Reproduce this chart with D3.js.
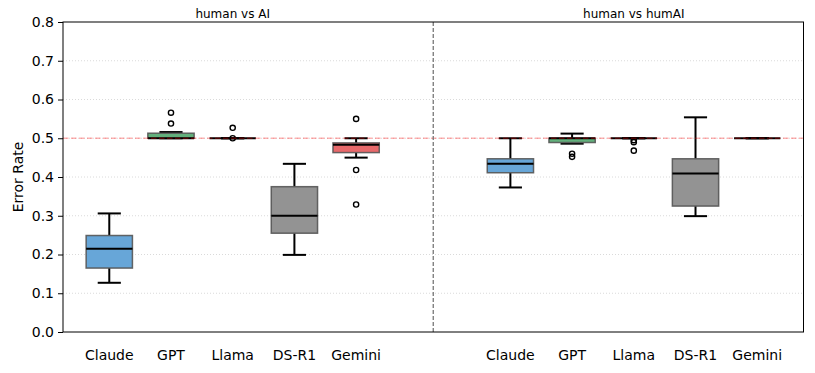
<!DOCTYPE html>
<html>
<head>
<meta charset="utf-8">
<script src="https://cdn.jsdelivr.net/npm/d3@7"></script>
<style>
  body { margin: 0; background: #fff; }
  svg { font-family: "DejaVu Sans", sans-serif; }
</style>
</head>
<body>
<svg width="815" height="373"></svg>
<script>
// models and panel titles
let models = ["Claude", "GPT", "Llama", "DS-R1", "Gemini"];
let groups = ["human vs AI", "human vs humAI"];
let colors = ["#67a6d8", "#62b07c", "#9b84c4", "#939393", "#e8696b"];
let yTicks = [0.0, 0.1, 0.2, 0.3, 0.4, 0.5, 0.6, 0.7, 0.8];

// box stats per group: [whisker low, q1, median, q3, whisker high]
let statsAI = [
    [0.127, 0.165, 0.215, 0.249, 0.306],
    [0.500, 0.500, 0.500, 0.513, 0.516],
    [0.500, 0.500, 0.500, 0.500, 0.500],
    [0.199, 0.255, 0.300, 0.375, 0.434],
    [0.450, 0.463, 0.483, 0.488, 0.500]
];
let outliersAI = [
    [],
    [0.538, 0.566],
    [0.500, 0.527],
    [],
    [0.329, 0.418, 0.550]
];
let statsHumAI = [
    [0.373, 0.411, 0.434, 0.447, 0.500],
    [0.486, 0.489, 0.500, 0.500, 0.512],
    [0.500, 0.500, 0.500, 0.500, 0.500],
    [0.299, 0.325, 0.409, 0.447, 0.554],
    [0.500, 0.500, 0.500, 0.500, 0.500]
];
let outliersHumAI = [
    [],
    [0.452, 0.460],
    [0.468, 0.490, 0.495],
    [],
    []
];
let offsets = [0, 6.5];
let chance = 0.5;

let margin = { left: 63, right: 11.5, top: 22, bottom: 41 };
let width = 815, height = 373;

let svg = d3.select("svg");

let x = d3.scaleLinear().domain([-0.75, 11.25])
    .range([margin.left, width - margin.right]);
let y = d3.scaleLinear().domain([0, 0.8])
    .range([height - margin.bottom, margin.top]);

let bw = 0.75;
let px = function (v) { return x(v) - x(0); };

// grid
svg.append("g")
    .selectAll("line")
    .data(yTicks.slice(1, -1))
    .join("line")
    .attr("x1", x.range()[0]).attr("x2", x.range()[1])
    .attr("y1", function (d) { return y(d); })
    .attr("y2", function (d) { return y(d); })
    .attr("stroke", "#d0d0d0")
    .attr("stroke-width", 0.8)
    .attr("stroke-dasharray", "1,2");

// flatten boxes
let boxes = [];
[statsAI, statsHumAI].forEach(function (stats, g) {
    let outs = g === 0 ? outliersAI : outliersHumAI;
    stats.forEach(function (s, i) {
        boxes.push({ pos: offsets[g] + i, s: s, out: outs[i], color: colors[i] });
    });
});

let bx = svg.append("g")
    .selectAll("g")
    .data(boxes)
    .join("g");

// whiskers
bx.append("line")
    .attr("x1", function (d) { return x(d.pos); })
    .attr("x2", function (d) { return x(d.pos); })
    .attr("y1", function (d) { return y(d.s[0]); })
    .attr("y2", function (d) { return y(d.s[1]); })
    .attr("stroke", "#000").attr("stroke-width", 2);
bx.append("line")
    .attr("x1", function (d) { return x(d.pos); })
    .attr("x2", function (d) { return x(d.pos); })
    .attr("y1", function (d) { return y(d.s[3]); })
    .attr("y2", function (d) { return y(d.s[4]); })
    .attr("stroke", "#000").attr("stroke-width", 2);
// caps
[0, 4].forEach(function (k) {
    bx.append("line")
        .attr("x1", function (d) { return x(d.pos - bw / 4); })
        .attr("x2", function (d) { return x(d.pos + bw / 4); })
        .attr("y1", function (d) { return y(d.s[k]); })
        .attr("y2", function (d) { return y(d.s[k]); })
        .attr("stroke", "#000").attr("stroke-width", 2);
});
// box
bx.append("rect")
    .attr("x", function (d) { return x(d.pos - bw / 2); })
    .attr("width", px(bw))
    .attr("y", function (d) { return y(d.s[3]); })
    .attr("height", function (d) { return y(d.s[1]) - y(d.s[3]); })
    .attr("fill", function (d) { return d.color; })
    .attr("stroke", "#555")
    .attr("stroke-opacity", 0.9)
    .attr("stroke-width", 1.5);
// median
bx.append("line")
    .attr("x1", function (d) { return x(d.pos - bw / 2); })
    .attr("x2", function (d) { return x(d.pos + bw / 2); })
    .attr("y1", function (d) { return y(d.s[2]); })
    .attr("y2", function (d) { return y(d.s[2]); })
    .attr("stroke", "#000").attr("stroke-width", 2);
// fliers
bx.selectAll("circle")
    .data(function (d) { return d.out.map(function (v) { return { pos: d.pos, v: v }; }); })
    .join("circle")
    .attr("cx", function (d) { return x(d.pos); })
    .attr("cy", function (d) { return y(d.v); })
    .attr("r", 2.6)
    .attr("fill", "none")
    .attr("stroke", "#000")
    .attr("stroke-width", 1.4);

// chance line
svg.append("line")
    .attr("x1", x.range()[0]).attr("x2", x.range()[1])
    .attr("y1", y(chance)).attr("y2", y(chance))
    .attr("stroke", "red")
    .attr("stroke-opacity", 0.3)
    .attr("stroke-width", 1.6)
    .attr("stroke-dasharray", "5.5,2.5");

// divider
svg.append("line")
    .attr("x1", x(5.25)).attr("x2", x(5.25))
    .attr("y1", y.range()[0]).attr("y2", y.range()[1])
    .attr("stroke", "#777")
    .attr("stroke-width", 1.3)
    .attr("stroke-dasharray", "4,2");

// frame
svg.append("rect")
    .attr("x", x.range()[0]).attr("y", y.range()[1])
    .attr("width", x.range()[1] - x.range()[0])
    .attr("height", y.range()[0] - y.range()[1])
    .attr("fill", "none")
    .attr("stroke", "#000")
    .attr("stroke-width", 1);

// y axis
let yAxis = svg.append("g")
    .attr("transform", "translate(" + x.range()[0] + ",0)")
    .call(d3.axisLeft(y).tickValues(yTicks).tickFormat(d3.format(".1f")).tickSize(5).tickPadding(4));
yAxis.select(".domain").remove();
yAxis.selectAll("line").attr("stroke", "#000");
yAxis.selectAll("text").attr("font-size", 14).attr("fill", "#000")
    .attr("font-family", "DejaVu Sans, sans-serif");

// x labels
let xTicks = [];
offsets.forEach(function (o) {
    models.forEach(function (m, i) { xTicks.push({ pos: o + i, name: m }); });
});
svg.append("g")
    .selectAll("text")
    .data(xTicks)
    .join("text")
    .attr("x", function (d) { return x(d.pos); })
    .attr("y", 360)
    .attr("text-anchor", "middle")
    .attr("font-size", 14)
    .text(function (d) { return d.name; });

// titles
svg.append("g")
    .selectAll("text")
    .data(groups)
    .join("text")
    .attr("x", function (d, i) { return x(offsets[i] + 2); })
    .attr("y", 18)
    .attr("text-anchor", "middle")
    .attr("font-size", 12)
    .text(function (d) { return d; });

// y label
svg.append("text")
    .attr("transform", "translate(22.5," + y(0.4) + ") rotate(-90)")
    .attr("text-anchor", "middle")
    .attr("font-size", 14)
    .text("Error Rate");
</script>
</body>
</html>
